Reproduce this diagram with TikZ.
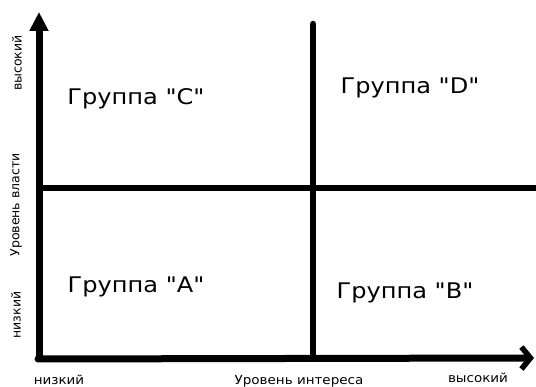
\documentclass[tikz,border=0pt]{standalone}
\usepackage{fontspec}
\setmainfont{DejaVu Sans}
\usetikzlibrary{arrows.meta}
\newcommand{\qmark}{\XeTeXglyph\XeTeXcharglyph"22\relax}
\begin{document}
\begin{tikzpicture}[x=1pt,y=-1pt,
  axis/.style={line width=7pt,line cap=round},
  grp/.style={font=\fontsize{21.5}{23}\selectfont,inner sep=0pt},
  lbl/.style={font=\fontsize{12.5}{14}\selectfont,inner sep=0pt}]
\useasboundingbox (0,0) rectangle (536,387);
\coordinate (o) at (38,359);
\coordinate (ytop) at (39,12);
\coordinate (xend) at (534,358);
\coordinate (mtop) at (313,24);
\coordinate (mbot) at (313,358);
\coordinate (hl) at (40,188);
\coordinate (hr) at (536,188);
\draw[axis,line cap=butt,-{Triangle[length=19pt,width=18pt]}] (39,362) -- (ytop);
\draw[axis,-{Straight Barb[length=9pt,width=22pt,line width=5.5pt]}] (o) -- (xend);
\draw[line width=6.5pt,line cap=round] (mtop) -- (mbot);
\draw[line width=6.5pt] (hl) -- (hr);
\node[grp] (c) at (136,99) {\scalebox{1.12}[1]{Группа \qmark C\qmark}};
\node[grp] (d) at (410,88) {\scalebox{1.12}[1]{Группа \qmark D\qmark}};
\node[grp] (a) at (136,287) {\scalebox{1.12}[1]{Группа \qmark A\qmark}};
\node[grp] (b) at (405,293) {\scalebox{1.12}[1]{Группа \qmark B\qmark}};
\node[lbl,rotate=90] (yh) at (17,63) {высокий};
\node[lbl,rotate=90] (ym) at (16,205) {Уровень власти};
\node[lbl,rotate=90] (yl) at (16,315) {низкий};
\node[lbl] (xl) at (59,380) {\scalebox{1.08}[1]{низкий}};
\node[lbl] (xm) at (299,381) {\scalebox{1.08}[1]{Уровень интереса}};
\node[lbl] (xh) at (478,378) {\scalebox{1.08}[1]{высокий}};
\end{tikzpicture}
\end{document}
